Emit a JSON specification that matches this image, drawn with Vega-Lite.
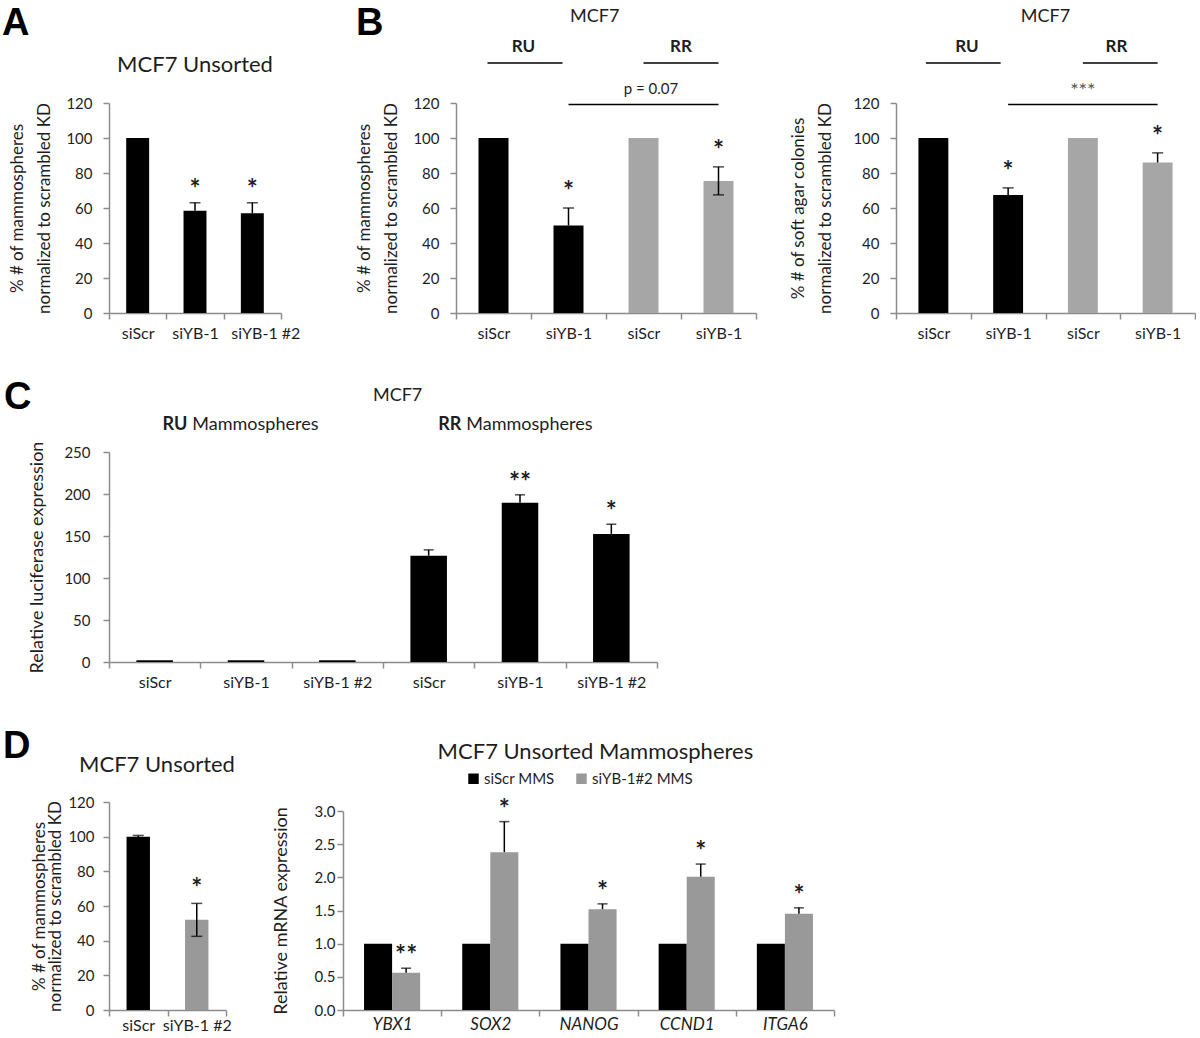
{
  "$schema": "https://vega.github.io/schema/vega-lite/v6.json",
  "background": "white",
  "padding": {"left": 2, "top": 4, "right": 0, "bottom": 0},
  "autosize": {"type": "pad"},
  "spacing": 38,
  "resolve": {"scale": {"color": "independent"}, "legend": {"color": "independent"}},
  "config": {
    "font": "Lato",
    "view": {"stroke": null},
    "axis": {"grid": false, "domainColor": "#8c8c8c", "domainWidth": 1.5, "tickColor": "#8c8c8c", "tickWidth": 1.5, "tickSize": 6, "labelColor": "#1e1e1e", "titleColor": "#1e1e1e", "labelFont": "Lato", "titleFont": "Lato", "labelFontSize": 15, "titleFontSize": 17, "titleFontWeight": "normal"},
    "axisX": {"labelAngle": 0, "tickBand": "extent", "labelPadding": 6, "labelFontSize": 16},
    "axisY": {"labelPadding": 11, "titleLineHeight": 27, "titlePadding": 12},
    "text": {"font": "Lato", "color": "#1e1e1e"}
  },
  "vconcat": [
    {
      "spacing": 55,
      "hconcat": [
        {
          "width": 172, "height": 210,
          "data": {"values": [
            {"cond": "siScr", "value": 100, "lo": 100, "hi": 100},
            {"cond": "siYB-1", "value": 58.5, "lo": 58.5, "hi": 63, "sig": "*"},
            {"cond": "siYB-1 #2", "value": 57, "lo": 57, "hi": 63, "sig": "*"}
          ]},
          "encoding": {
            "x": {"field": "cond", "type": "nominal", "sort": null, "scale": {"domain": ["siScr", "siYB-1", "siYB-1 #2"], "paddingInner": 0, "paddingOuter": 0}, "axis": {"title": null, "labelOffset": {"condition": {"test": "datum.value == 'siYB-1 #2'", "value": 13}, "value": 0}}},
            "y": {"field": "value", "type": "quantitative", "scale": {"domain": [0, 120], "nice": false}, "axis": {"values": [0, 20, 40, 60, 80, 100, 120], "title": ["% # of mammospheres", "normalized to scrambled KD"]}}
          },
          "layer": [
            {"mark": {"type": "bar", "width": {"band": 0.4}, "color": "black"}},
            {"transform": [{"filter": "datum.hi > datum.value"}], "mark": {"type": "rule", "strokeWidth": 1.5, "color": "black"}, "encoding": {"y": {"field": "lo", "type": "quantitative"}, "y2": {"field": "hi"}}},
            {"transform": [{"filter": "datum.hi > datum.value"}], "mark": {"type": "tick", "thickness": 1.5, "size": 11, "color": "black"}, "encoding": {"y": {"field": "hi", "type": "quantitative"}}},
            {"transform": [{"filter": "datum.sig"}], "mark": {"type": "text", "fontSize": 26, "fontWeight": "bold", "baseline": "alphabetic", "dy": -5}, "encoding": {"y": {"field": "hi", "type": "quantitative"}, "text": {"field": "sig"}}},
            {"transform": [{"filter": "datum.cond == 'siScr'"}], "mark": {"type": "text", "text": "A", "font": "Liberation Sans", "fontWeight": "bold", "fontSize": 38, "align": "left", "baseline": "alphabetic", "dx": -107, "color": "black"}, "encoding": {"x": {"field": "cond", "type": "nominal", "bandPosition": 0}, "y": {"datum": 158.9, "type": "quantitative"}}},
            {"transform": [{"filter": "datum.cond == 'siYB-1'"}], "mark": {"type": "text", "text": "MCF7 Unsorted", "fontSize": 22, "align": "center", "baseline": "alphabetic"}, "encoding": {"y": {"datum": 137.7, "type": "quantitative"}}}
          ]
        },
        {
          "spacing": 32,
          "hconcat": [
            {
              "width": 300, "height": 210,
              "data": {"values": [
                {"key": "RU|siScr", "grp": "RU", "value": 100, "lo": 100, "hi": 100},
                {"key": "RU|siYB-1", "grp": "RU", "value": 50, "lo": 50, "hi": 60, "sig": "*"},
                {"key": "RR|siScr", "grp": "RR", "value": 100, "lo": 100, "hi": 100},
                {"key": "RR|siYB-1", "grp": "RR", "value": 75.5, "lo": 67.5, "hi": 83.5, "sig": "*"}
              ]},
              "encoding": {
                "x": {"field": "key", "type": "nominal", "sort": null, "scale": {"domain": ["RU|siScr", "RU|siYB-1", "RR|siScr", "RR|siYB-1"], "paddingInner": 0, "paddingOuter": 0}, "axis": {"title": null, "labelExpr": "split(datum.label, '|')[1]"}},
                "y": {"field": "value", "type": "quantitative", "scale": {"domain": [0, 120], "nice": false}, "axis": {"values": [0, 20, 40, 60, 80, 100, 120], "title": ["% # of mammospheres", "normalized to scrambled KD"]}}
              },
              "layer": [
                {"mark": {"type": "bar", "width": {"band": 0.4}}, "encoding": {"color": {"condition": {"test": "datum.grp == 'RR'", "value": "#a6a6a6"}, "value": "#000000"}}},
                {"transform": [{"filter": "datum.hi > datum.value"}], "mark": {"type": "rule", "strokeWidth": 1.5, "color": "black"}, "encoding": {"y": {"field": "lo", "type": "quantitative"}, "y2": {"field": "hi"}}},
                {"transform": [{"filter": "datum.hi > datum.value"}], "mark": {"type": "tick", "thickness": 1.5, "size": 11, "color": "black"}, "encoding": {"y": {"field": "hi", "type": "quantitative"}}},
                {"transform": [{"filter": "datum.lo < datum.value"}], "mark": {"type": "tick", "thickness": 1.5, "size": 11, "color": "black"}, "encoding": {"y": {"field": "lo", "type": "quantitative"}}},
                {"transform": [{"filter": "datum.sig"}], "mark": {"type": "text", "fontSize": 26, "fontWeight": "bold", "baseline": "alphabetic", "dy": -8}, "encoding": {"y": {"field": "hi", "type": "quantitative"}, "text": {"field": "sig"}}},
                {"transform": [{"filter": "datum.key == 'RU|siScr'"}], "mark": {"type": "text", "text": "B", "font": "Liberation Sans", "fontWeight": "bold", "fontSize": 38, "align": "left", "baseline": "alphabetic", "dx": -100, "color": "black"}, "encoding": {"x": {"field": "key", "type": "nominal", "bandPosition": 0}, "y": {"datum": 158.9, "type": "quantitative"}}},
                {"transform": [{"filter": "datum.key == 'RU|siYB-1'"}], "mark": {"type": "text", "text": "MCF7", "fontSize": 18, "align": "center", "baseline": "alphabetic"}, "encoding": {"x": {"field": "key", "type": "nominal", "bandPosition": 0.85}, "y": {"datum": 166.3, "type": "quantitative"}}},
                {"transform": [{"filter": "datum.key == 'RU|siScr'"}], "mark": {"type": "text", "text": "RU", "fontSize": 17, "fontWeight": "bold", "align": "center", "baseline": "alphabetic"}, "encoding": {"x": {"field": "key", "type": "nominal", "bandPosition": 0.9}, "y": {"datum": 149, "type": "quantitative"}}},
                {"transform": [{"filter": "datum.key == 'RR|siYB-1'"}], "mark": {"type": "text", "text": "RR", "fontSize": 17, "fontWeight": "bold", "align": "center", "baseline": "alphabetic"}, "encoding": {"x": {"field": "key", "type": "nominal", "bandPosition": 0}, "y": {"datum": 149, "type": "quantitative"}}},
                {"transform": [{"filter": "datum.grp == 'RU'"}], "mark": {"type": "line", "strokeWidth": 1.5, "color": "black"}, "encoding": {"x": {"field": "key", "type": "nominal", "bandPosition": 0.42}, "y": {"datum": 142.9, "type": "quantitative"}}},
                {"transform": [{"filter": "datum.grp == 'RR'"}], "mark": {"type": "line", "strokeWidth": 1.5, "color": "black"}, "encoding": {"y": {"datum": 142.9, "type": "quantitative"}}},
                {"transform": [{"filter": "datum.key != 'RU|siScr'"}], "mark": {"type": "line", "strokeWidth": 1.5, "color": "black"}, "encoding": {"y": {"datum": 119.1, "type": "quantitative"}}},
                {"transform": [{"filter": "datum.key == 'RR|siScr'"}], "mark": {"type": "text", "text": "p = 0.07", "fontSize": 15, "align": "center", "baseline": "alphabetic"}, "encoding": {"x": {"field": "key", "type": "nominal", "bandPosition": 0.6}, "y": {"datum": 125.1, "type": "quantitative"}}}
              ]
            },
            {
              "width": 299, "height": 210,
              "data": {"values": [
                {"key": "RU|siScr", "grp": "RU", "value": 100, "lo": 100, "hi": 100},
                {"key": "RU|siYB-1", "grp": "RU", "value": 67.5, "lo": 67.5, "hi": 71.5, "sig": "*"},
                {"key": "RR|siScr", "grp": "RR", "value": 100, "lo": 100, "hi": 100},
                {"key": "RR|siYB-1", "grp": "RR", "value": 86, "lo": 86, "hi": 91.5, "sig": "*"}
              ]},
              "encoding": {
                "x": {"field": "key", "type": "nominal", "sort": null, "scale": {"domain": ["RU|siScr", "RU|siYB-1", "RR|siScr", "RR|siYB-1"], "paddingInner": 0, "paddingOuter": 0}, "axis": {"title": null, "labelExpr": "split(datum.label, '|')[1]"}},
                "y": {"field": "value", "type": "quantitative", "scale": {"domain": [0, 120], "nice": false}, "axis": {"values": [0, 20, 40, 60, 80, 100, 120], "title": ["% # of soft agar colonies", "normalized to scrambled KD"], "titlePadding": 18}}
              },
              "layer": [
                {"mark": {"type": "bar", "width": {"band": 0.4}}, "encoding": {"color": {"condition": {"test": "datum.grp == 'RR'", "value": "#a6a6a6"}, "value": "#000000"}}},
                {"transform": [{"filter": "datum.hi > datum.value"}], "mark": {"type": "rule", "strokeWidth": 1.5, "color": "black"}, "encoding": {"y": {"field": "lo", "type": "quantitative"}, "y2": {"field": "hi"}}},
                {"transform": [{"filter": "datum.hi > datum.value"}], "mark": {"type": "tick", "thickness": 1.5, "size": 11, "color": "black"}, "encoding": {"y": {"field": "hi", "type": "quantitative"}}},
                {"transform": [{"filter": "datum.sig"}], "mark": {"type": "text", "fontSize": 26, "fontWeight": "bold", "baseline": "alphabetic", "dy": -8}, "encoding": {"y": {"field": "hi", "type": "quantitative"}, "text": {"field": "sig"}}},
                {"transform": [{"filter": "datum.key == 'RU|siYB-1'"}], "mark": {"type": "text", "text": "MCF7", "fontSize": 18, "align": "center", "baseline": "alphabetic"}, "encoding": {"x": {"field": "key", "type": "nominal", "bandPosition": 1}, "y": {"datum": 166.3, "type": "quantitative"}}},
                {"transform": [{"filter": "datum.key == 'RU|siScr'"}], "mark": {"type": "text", "text": "RU", "fontSize": 17, "fontWeight": "bold", "align": "center", "baseline": "alphabetic"}, "encoding": {"x": {"field": "key", "type": "nominal", "bandPosition": 0.95}, "y": {"datum": 149, "type": "quantitative"}}},
                {"transform": [{"filter": "datum.key == 'RR|siScr'"}], "mark": {"type": "text", "text": "RR", "fontSize": 17, "fontWeight": "bold", "align": "center", "baseline": "alphabetic"}, "encoding": {"x": {"field": "key", "type": "nominal", "bandPosition": 0.95}, "y": {"datum": 149, "type": "quantitative"}}},
                {"transform": [{"filter": "datum.grp == 'RU'"}], "mark": {"type": "line", "strokeWidth": 1.5, "color": "black"}, "encoding": {"x": {"field": "key", "type": "nominal", "bandPosition": 0.4}, "y": {"datum": 142.9, "type": "quantitative"}}},
                {"transform": [{"filter": "datum.grp == 'RR'"}], "mark": {"type": "line", "strokeWidth": 1.5, "color": "black"}, "encoding": {"y": {"datum": 142.9, "type": "quantitative"}}},
                {"transform": [{"filter": "datum.key != 'RU|siScr'"}], "mark": {"type": "line", "strokeWidth": 1.5, "color": "black"}, "encoding": {"y": {"datum": 119.1, "type": "quantitative"}}},
                {"transform": [{"filter": "datum.key == 'RR|siScr'"}], "mark": {"type": "text", "text": "***", "fontSize": 20, "align": "center", "baseline": "alphabetic", "color": "#555555"}, "encoding": {"y": {"datum": 123.5, "type": "quantitative"}}}
              ]
            }
          ]
        }
      ]
    },
    {
      "width": 548, "height": 210,
      "data": {"values": [
        {"key": "RU|siScr", "grp": "RU", "value": 2, "lo": 2, "hi": 2},
        {"key": "RU|siYB-1", "grp": "RU", "value": 2, "lo": 2, "hi": 2},
        {"key": "RU|siYB-1 #2", "grp": "RU", "value": 2, "lo": 2, "hi": 2},
        {"key": "RR|siScr", "grp": "RR", "value": 126.5, "lo": 126.5, "hi": 133.5},
        {"key": "RR|siYB-1", "grp": "RR", "value": 189.5, "lo": 189.5, "hi": 199, "sig": "**"},
        {"key": "RR|siYB-1 #2", "grp": "RR", "value": 152.5, "lo": 152.5, "hi": 164, "sig": "*"}
      ]},
      "encoding": {
        "x": {"field": "key", "type": "nominal", "sort": null, "scale": {"domain": ["RU|siScr", "RU|siYB-1", "RU|siYB-1 #2", "RR|siScr", "RR|siYB-1", "RR|siYB-1 #2"], "paddingInner": 0, "paddingOuter": 0}, "axis": {"title": null, "labelExpr": "split(datum.label, '|')[1]"}},
        "y": {"field": "value", "type": "quantitative", "scale": {"domain": [0, 250], "nice": false}, "axis": {"values": [0, 50, 100, 150, 200, 250], "title": "Relative luciferase expression", "titleFontSize": 18, "labelPadding": 13, "titlePadding": 17}}
      },
      "layer": [
        {"mark": {"type": "bar", "width": {"band": 0.4}, "color": "black"}},
        {"transform": [{"filter": "datum.hi > datum.value"}], "mark": {"type": "rule", "strokeWidth": 1.5, "color": "black"}, "encoding": {"y": {"field": "lo", "type": "quantitative"}, "y2": {"field": "hi"}}},
        {"transform": [{"filter": "datum.hi > datum.value"}], "mark": {"type": "tick", "thickness": 1.5, "size": 10, "color": "black"}, "encoding": {"y": {"field": "hi", "type": "quantitative"}}},
        {"transform": [{"filter": "datum.sig"}], "mark": {"type": "text", "fontSize": 26, "fontWeight": "bold", "baseline": "alphabetic", "dy": -4}, "encoding": {"y": {"field": "hi", "type": "quantitative"}, "text": {"field": "sig"}}},
        {"transform": [{"filter": "datum.key == 'RU|siScr'"}], "mark": {"type": "text", "text": "C", "font": "Liberation Sans", "fontWeight": "bold", "fontSize": 38, "align": "left", "baseline": "alphabetic", "dx": -105, "color": "black"}, "encoding": {"x": {"field": "key", "type": "nominal", "bandPosition": 0}, "y": {"datum": 301, "type": "quantitative"}}},
        {"transform": [{"filter": "datum.key == 'RR|siScr'"}], "mark": {"type": "text", "text": "MCF7", "fontSize": 18, "align": "center", "baseline": "alphabetic"}, "encoding": {"x": {"field": "key", "type": "nominal", "bandPosition": 0.16}, "y": {"datum": 310.7, "type": "quantitative"}}},
        {"transform": [{"filter": "datum.key == 'RU|siScr' || datum.key == 'RR|siScr'"}], "mark": {"type": "text", "fontSize": 18, "fontWeight": "bold", "align": "right", "baseline": "alphabetic", "dx": -2}, "encoding": {"x": {"field": "key", "type": "nominal", "bandPosition": 0.88}, "y": {"datum": 276.2, "type": "quantitative"}, "text": {"field": "grp", "type": "nominal"}}},
        {"transform": [{"filter": "datum.key == 'RU|siScr' || datum.key == 'RR|siScr'"}], "mark": {"type": "text", "text": "Mammospheres", "fontSize": 18, "align": "left", "baseline": "alphabetic", "dx": 3}, "encoding": {"x": {"field": "key", "type": "nominal", "bandPosition": 0.88}, "y": {"datum": 276.2, "type": "quantitative"}}}
      ]
    },
    {
      "spacing": 37,
      "resolve": {"scale": {"color": "independent"}, "legend": {"color": "independent"}},
      "hconcat": [
        {
          "width": 117, "height": 208,
          "data": {"values": [
            {"cond": "siScr", "value": 100, "lo": 99.3, "hi": 100.7},
            {"cond": "siYB-1 #2", "value": 52, "lo": 42.5, "hi": 61.5, "sig": "*"}
          ]},
          "encoding": {
            "x": {"field": "cond", "type": "nominal", "sort": null, "scale": {"domain": ["siScr", "siYB-1 #2"], "paddingInner": 0, "paddingOuter": 0}, "axis": {"title": null, "labelPadding": 1}},
            "y": {"field": "value", "type": "quantitative", "scale": {"domain": [0, 120], "nice": false}, "axis": {"values": [0, 20, 40, 60, 80, 100, 120], "title": ["% # of mammospheres", "normalized to scrambled KD"], "labelPadding": 9, "titleLineHeight": 16, "titlePadding": 3}}
          },
          "layer": [
            {"mark": {"type": "bar", "width": {"band": 0.4}}, "encoding": {"color": {"condition": {"test": "datum.cond == 'siScr'", "value": "#000000"}, "value": "#999999"}}},
            {"transform": [{"filter": "datum.hi > datum.value"}], "mark": {"type": "rule", "strokeWidth": 1.5, "color": "black"}, "encoding": {"y": {"field": "lo", "type": "quantitative"}, "y2": {"field": "hi"}}},
            {"transform": [{"filter": "datum.hi > datum.value"}], "mark": {"type": "tick", "thickness": 1.5, "size": 11, "color": "black"}, "encoding": {"y": {"field": "hi", "type": "quantitative"}}},
            {"transform": [{"filter": "datum.lo < datum.value"}], "mark": {"type": "tick", "thickness": 1.5, "size": 11, "color": "black"}, "encoding": {"y": {"field": "lo", "type": "quantitative"}}},
            {"transform": [{"filter": "datum.sig"}], "mark": {"type": "text", "fontSize": 26, "fontWeight": "bold", "baseline": "alphabetic", "dy": -6}, "encoding": {"y": {"field": "hi", "type": "quantitative"}, "text": {"field": "sig"}}},
            {"transform": [{"filter": "datum.cond == 'siScr'"}], "mark": {"type": "text", "text": "D", "font": "Liberation Sans", "fontWeight": "bold", "fontSize": 38, "align": "left", "baseline": "alphabetic", "dx": -106, "color": "black"}, "encoding": {"x": {"field": "cond", "type": "nominal", "bandPosition": 0}, "y": {"datum": 145.35, "type": "quantitative"}}},
            {"transform": [{"filter": "datum.cond == 'siScr'"}], "mark": {"type": "text", "text": "MCF7 Unsorted", "fontSize": 22, "align": "center", "baseline": "alphabetic"}, "encoding": {"x": {"field": "cond", "type": "nominal", "bandPosition": 0.82}, "y": {"datum": 137.3, "type": "quantitative"}}}
          ]
        },
        {
          "width": 491, "height": 208,
          "data": {"values": [
            {"gene": "YBX1", "cond": "siScr MMS", "value": 1.0, "hi": 1.0},
            {"gene": "YBX1", "cond": "siYB-1#2 MMS", "value": 0.56, "hi": 0.63, "sig": "**"},
            {"gene": "SOX2", "cond": "siScr MMS", "value": 1.0, "hi": 1.0},
            {"gene": "SOX2", "cond": "siYB-1#2 MMS", "value": 2.38, "hi": 2.84, "sig": "*"},
            {"gene": "NANOG", "cond": "siScr MMS", "value": 1.0, "hi": 1.0},
            {"gene": "NANOG", "cond": "siYB-1#2 MMS", "value": 1.52, "hi": 1.6, "sig": "*"},
            {"gene": "CCND1", "cond": "siScr MMS", "value": 1.0, "hi": 1.0},
            {"gene": "CCND1", "cond": "siYB-1#2 MMS", "value": 2.01, "hi": 2.2, "sig": "*"},
            {"gene": "ITGA6", "cond": "siScr MMS", "value": 1.0, "hi": 1.0},
            {"gene": "ITGA6", "cond": "siYB-1#2 MMS", "value": 1.45, "hi": 1.54, "sig": "*"}
          ]},
          "encoding": {
            "x": {"field": "gene", "type": "nominal", "sort": null, "scale": {"domain": ["YBX1", "SOX2", "NANOG", "CCND1", "ITGA6"], "paddingInner": 0, "paddingOuter": 0}, "axis": {"title": null, "labelFontStyle": "italic", "labelFontSize": 17, "labelPadding": 0}},
            "y": {"field": "value", "type": "quantitative", "scale": {"domain": [0, 3], "nice": false, "range": [208, 9]}, "axis": {"values": [0, 0.5, 1, 1.5, 2, 2.5, 3], "format": ".1f", "title": "Relative mRNA expression", "titleFontSize": 18, "labelPadding": 2, "titlePadding": 24}}
          },
          "layer": [
            {"mark": {"type": "bar"}, "encoding": {
              "xOffset": {"field": "cond", "type": "nominal", "sort": null, "scale": {"domain": ["siScr MMS", "siYB-1#2 MMS"], "paddingInner": 0, "paddingOuter": 0.75}},
              "color": {"field": "cond", "type": "nominal", "scale": {"domain": ["siScr MMS", "siYB-1#2 MMS"], "range": ["#000000", "#999999"]}, "legend": {"orient": "none", "legendX": 123, "legendY": -31, "direction": "horizontal", "title": null, "symbolType": "square", "symbolSize": 110, "symbolStrokeWidth": 0, "symbolOpacity": 1, "labelFontSize": 15, "labelFont": "Lato", "labelColor": "#1e1e1e", "columnPadding": 19, "labelOffset": 3, "padding": 0}}}},
            {"transform": [{"filter": "datum.hi > datum.value"}], "mark": {"type": "rule", "strokeWidth": 1.5, "color": "black"}, "encoding": {"xOffset": {"field": "cond", "type": "nominal"}, "y": {"field": "value", "type": "quantitative"}, "y2": {"field": "hi"}}},
            {"transform": [{"filter": "datum.hi > datum.value"}], "mark": {"type": "tick", "thickness": 1.5, "size": 10, "color": "black"}, "encoding": {"xOffset": {"field": "cond", "type": "nominal"}, "y": {"field": "hi", "type": "quantitative"}}},
            {"transform": [{"filter": "datum.sig"}], "mark": {"type": "text", "fontSize": 26, "fontWeight": "bold", "baseline": "alphabetic", "dy": -4}, "encoding": {"xOffset": {"field": "cond", "type": "nominal"}, "y": {"field": "hi", "type": "quantitative"}, "text": {"field": "sig"}}},
            {"transform": [{"filter": "datum.gene == 'NANOG' && datum.cond == 'siScr MMS'"}], "mark": {"type": "text", "text": "MCF7 Unsorted Mammospheres", "fontSize": 22, "align": "center", "baseline": "alphabetic"}, "encoding": {"x": {"field": "gene", "type": "nominal", "bandPosition": 0.57}, "y": {"datum": 3.78, "type": "quantitative"}}}
          ]
        }
      ]
    }
  ]
}
